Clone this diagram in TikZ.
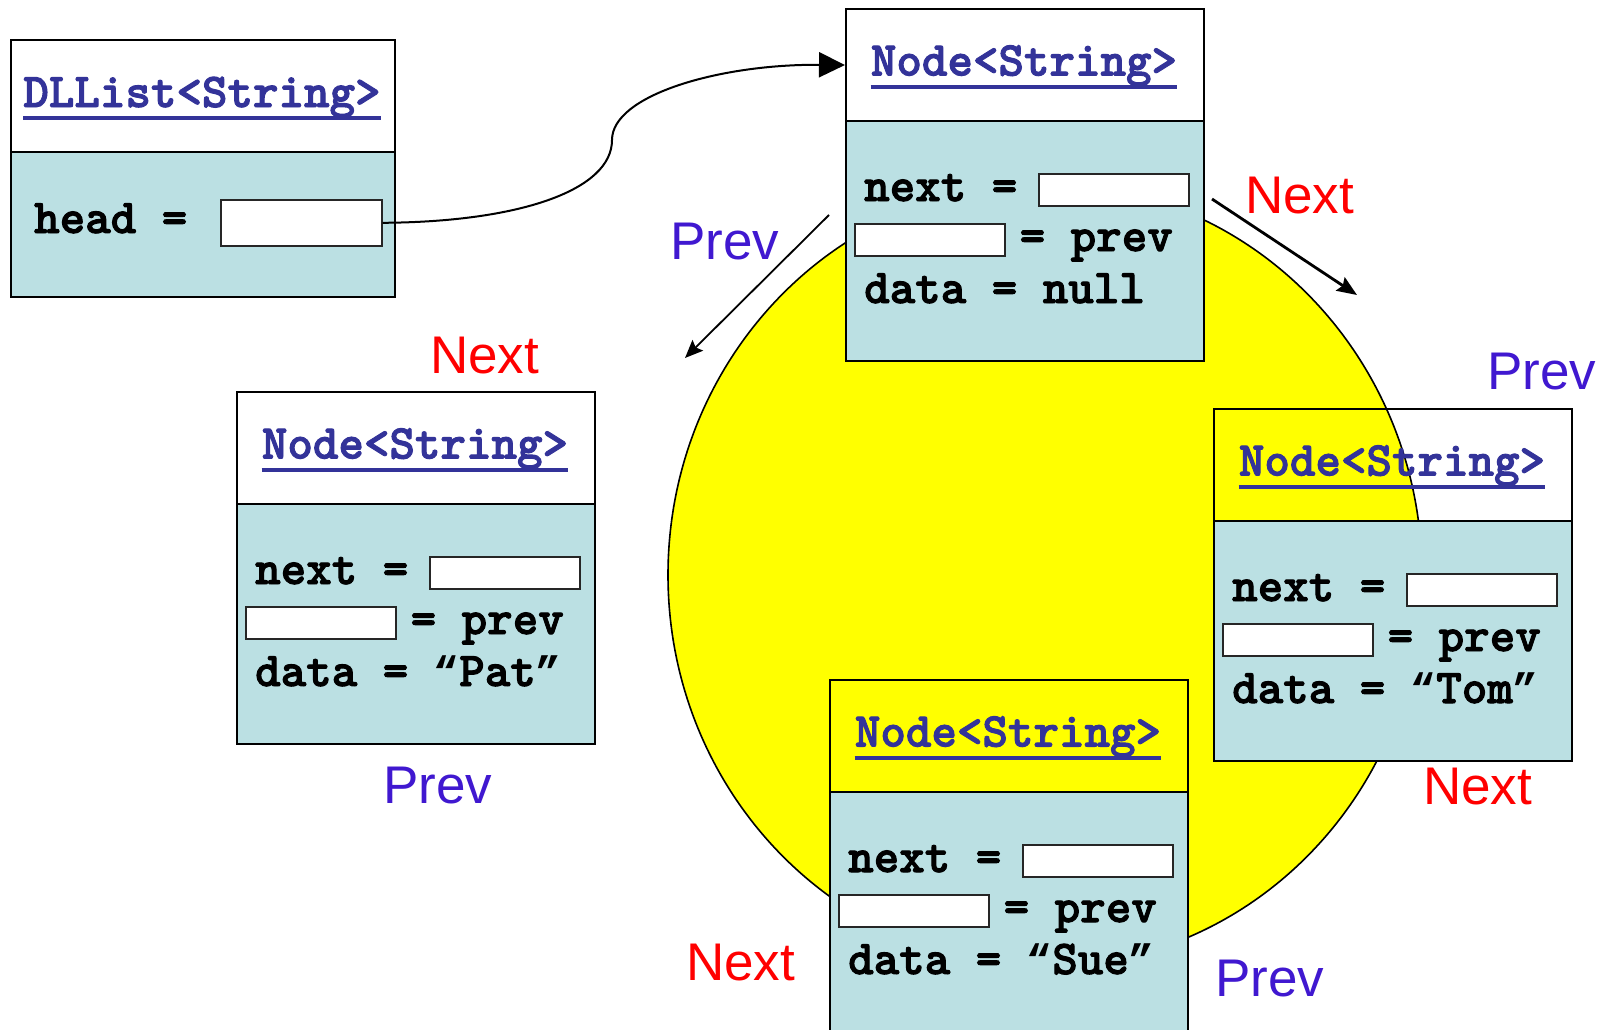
\documentclass[tikz,border=0pt]{standalone}
\usepackage{fontspec}
\newfontfamily\codefont{lmmonolt10-bold.otf}[RawFeature={embolden=2}]
\newfontfamily\quotefont{Liberation Mono}
\newfontfamily\labelfont{Liberation Sans}
\usetikzlibrary{arrows.meta,shapes.geometric}

\definecolor{bodyfill}{RGB}{187,224,227}
\definecolor{titleblue}{RGB}{51,51,153}
\definecolor{prevblue}{RGB}{64,24,208}
\definecolor{nextred}{RGB}{255,0,0}
\definecolor{ringyellow}{RGB}{255,255,0}

% curly quotes at the same advance as the code font
\newcommand\oq{{\quotefont\bfseries\fontsize{42.5}{50}\selectfont “}}
\newcommand\cq{{\quotefont\bfseries\fontsize{42.5}{50}\selectfont ”}}

\tikzset{
  hdr/.style={draw=black, line width=2pt, inner sep=0pt,
    minimum width=358pt, minimum height=112pt, anchor=north west},
  bodybox/.style={draw=black, line width=2pt, fill=bodyfill, inner sep=0pt,
    minimum width=358pt, minimum height=240pt, anchor=north west},
  slot/.style={draw=black!85, line width=1.6pt, fill=white, inner sep=0pt,
    minimum width=150pt, minimum height=32pt, anchor=north west},
  titletext/.style={anchor=base, inner sep=0pt, text=titleblue,
    font=\codefont\fontsize{48.6}{56}\selectfont},
  uline/.style={draw=titleblue, line width=4pt},
  code/.style={anchor=base west, inner sep=0pt, text=black,
    font=\codefont\fontsize{48.6}{56}\selectfont},
  lblnext/.style={anchor=base west, inner sep=0pt, text=nextred,
    font=\labelfont\fontsize{53}{60}\selectfont},
  lblprev/.style={anchor=base west, inner sep=0pt, text=prevblue,
    font=\labelfont\fontsize{53}{60}\selectfont},
  ptr/.style={draw=black, line width=1.8pt,
    -{Stealth[length=18pt,width=15pt,inset=3pt]}},
  ptrthick/.style={draw=black, line width=2.8pt,
    -{Stealth[length=20pt,width=16pt,inset=3pt]}},
  headptr/.style={draw=black, line width=2pt,
    -{Triangle[length=26pt,width=25pt]}},
}

% One list cell: #1 name, #2/#3 top-left corner, #4 data value
\newcommand\listnode[4]{%
  \begin{scope}[shift={(#2,#3)}]
    \node[hdr] (#1-h) at (0,0) {};
    \node[bodybox] (#1-b) at (0,112) {};
    \node[titletext] (#1-t) at (179,67.5) {Node<String>};
    \draw[uline] ([yshift=-11pt]#1-t.base west) -- ([yshift=-11pt]#1-t.base east);
    \node[slot] (#1-n) at (193,165) {};
    \node[slot] (#1-p) at (9,215) {};
    \node[code] (#1-nl) at (19,193) {next =};
    \node[code] (#1-pl) at (174.5,243) {= prev};
    \node[code] (#1-dl) at (19,295) {data = #4};
  \end{scope}}

\begin{document}
\begin{tikzpicture}[x=1pt,y=-1pt]
  \useasboundingbox (0,0) rectangle (1604,1029);
  \fill[white] (0,0) rectangle (1604,1029);

  % the circular list
  \node[ellipse, draw=black, line width=1.6pt, fill=ringyellow, inner sep=0pt,
        minimum width=754pt, minimum height=783pt] (ring) at (1045,575) {};

  % list cells
  \listnode{sentinel}{845}{8}{null}
  \listnode{pat}{236}{391}{\oq Pat\cq}
  \listnode{tom}{1213}{408}{\oq Tom\cq}
  \listnode{sue}{829}{679}{\oq Sue\cq}

  % list object
  \node[draw=black, line width=2pt, inner sep=0pt, minimum width=384pt,
        minimum height=112pt, anchor=north west] (dl-h) at (10,39) {};
  \node[draw=black, line width=2pt, fill=bodyfill, inner sep=0pt, minimum width=384pt,
        minimum height=145pt, anchor=north west] (dl-b) at (10,151) {};
  \node[titletext] (dl-t) at (202,107) {DLList<String>};
  \draw[uline] ([yshift=-11pt]dl-t.base west) -- ([yshift=-11pt]dl-t.base east);
  \node[code] (dl-hl) at (34,233) {head =};
  \node[draw=black!85, line width=1.6pt, fill=white, inner sep=0pt, minimum width=161pt,
        minimum height=46pt, anchor=north west] (dl-slot) at (220,199) {};

  % head pointer
  \draw[headptr] (dl-slot.east) .. controls (520,222) and (612,190) .. (612,140)
        .. controls (612,95) and (720,64) .. (sentinel-h.west);

  % direction arrows
  \coordinate (prevfrom) at (829,215);
  \coordinate (prevto) at (685,358);
  \draw[ptr] (prevfrom) -- (prevto);
  \coordinate (nextfrom) at (1212,199);
  \coordinate (nextto) at (1357,295);
  \draw[ptrthick] (nextfrom) -- (nextto);

  % direction labels
  \node[lblprev] (p1) at (670,259) {Prev};
  \node[lblnext] (n1) at (1245,213) {Next};
  \node[lblprev] (p2) at (1487,389) {Prev};
  \node[lblnext] (n2) at (1423,804) {Next};
  \node[lblprev] (p3) at (1215,996) {Prev};
  \node[lblnext] (n3) at (686,980) {Next};
  \node[lblnext] (n4) at (430,373) {Next};
  \node[lblprev] (p4) at (383,803) {Prev};
\end{tikzpicture}
\end{document}
